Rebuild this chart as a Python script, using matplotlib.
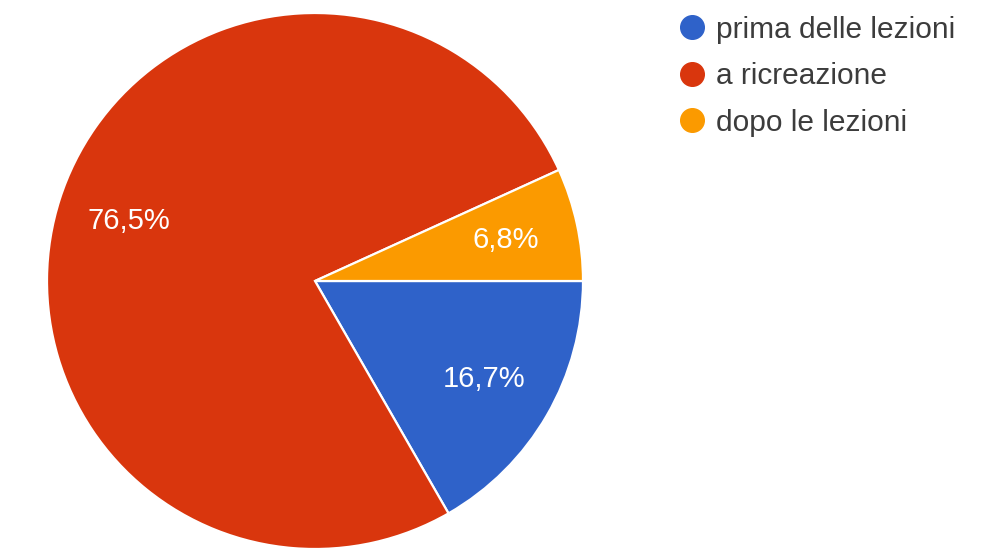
import matplotlib.pyplot as plt
from matplotlib.lines import Line2D

categorie = ["prima delle lezioni", "a ricreazione", "dopo le lezioni"]
percentuali = [16.7, 76.5, 6.8]
colori = ["#2f62c9", "#d9360d", "#fb9a00"]

plt.rcParams['font.family'] = ['Liberation Sans', 'DejaVu Sans']

fig = plt.figure(figsize=(10.02, 5.53), dpi=100)
ax = fig.add_axes([0, 0, 1, 1])


def etichetta(p):
    return f"{p:.1f}%".replace(".", ",")


wedges, testi, autotesti = ax.pie(
    percentuali, colors=colori, startangle=0, counterclock=False,
    center=(315, 272), radius=268, autopct=etichetta, pctdistance=0.73,
    wedgeprops=dict(edgecolor="white", linewidth=1.6),
    textprops=dict(color="white", fontsize=21), frame=True)
ax.set_xlim(0, 1002)
ax.set_ylim(0, 553)
ax.set_aspect('equal')
ax.axis('off')

maniglie = [Line2D([], [], marker='o', linestyle='none', markersize=17,
                   markerfacecolor=c, markeredgecolor=c) for c in colori]
leg = ax.legend(maniglie, categorie, loc='upper left',
                bbox_to_anchor=(680 / 1002, 1 - 15.5 / 553),
                frameon=False, fontsize=21.5, handlelength=0.8,
                handletextpad=0.4, labelspacing=0.62, borderpad=0,
                borderaxespad=0)
for t in leg.get_texts():
    t.set_color("#3c3c3c")

fig.savefig("out.png", dpi=100)
